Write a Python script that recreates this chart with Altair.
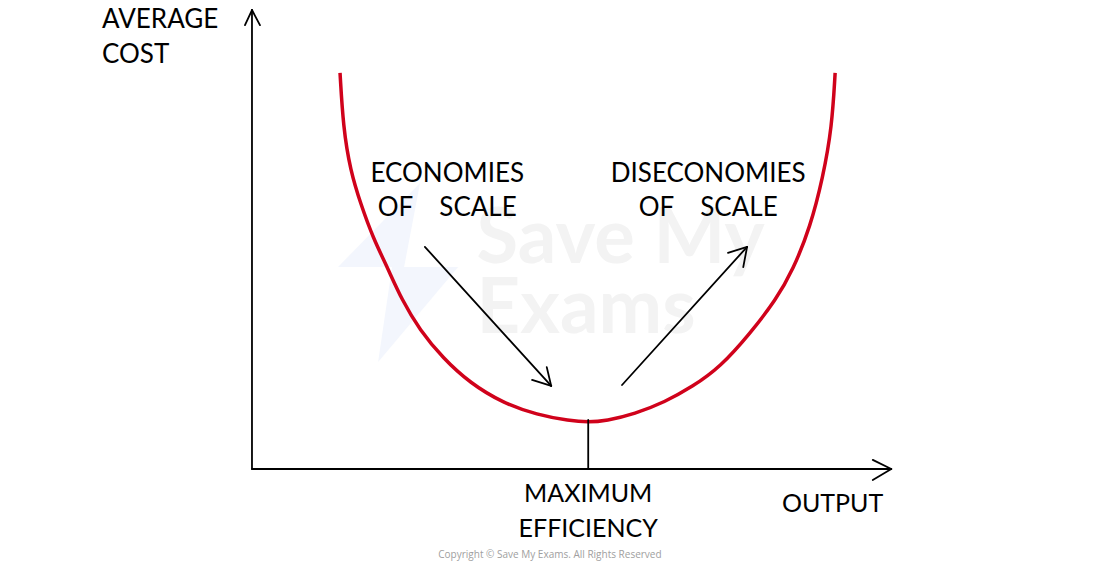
import altair as alt
import pandas as pd

# ---- data (diagram units: origin at axes corner, axis length = 100) ----
# Average cost curve (U-shape)
curve_x = [13.8, 14.3, 15.4, 17.1, 19.0, 21.2, 23.5, 26.3, 29.9, 34.2, 39.3, 44.7, 49.8, 52.7,
           55.5, 60.0, 64.7, 69.0, 73.4, 78.1, 82.1, 84.8, 87.5, 89.5, 90.9, 91.4]
curve_y = [86.3, 74.5, 65.1, 57.5, 50.3, 44.0, 36.8, 30.3, 24.2, 18.7, 14.4, 11.8, 10.5, 10.2,
           10.5, 12.0, 14.6, 17.9, 22.2, 29.6, 36.8, 43.4, 52.7, 63.6, 74.5, 86.3]

# Straight segments: axes, arrows, arrowheads, drop line at the minimum
seg_x  = [0.0, 0.0, 0.0, 0.0, 100.2, 100.2, 27.1, 46.9, 46.9, 58.0, 77.6, 77.6, 52.7]
seg_y  = [0.0, 100.0, 100.0, 0.0, 0.0, 0.0, 48.4, 18.1, 18.1, 18.3, 48.4, 48.4, 10.7]
seg_x2 = [0.0, -1.1, 1.25, 100.2, 97.3, 97.3, 46.9, 43.9, 46.2, 77.6, 74.6, 77.0, 52.7]
seg_y2 = [100.0, 96.7, 96.7, 0.0, 2.0, -2.4, 18.1, 19.4, 22.2, 48.4, 47.1, 44.0, 0.0]

# Axis titles (left aligned, baseline positions)
axis_text = ["AVERAGE", "COST"]
axis_tx = [-23.5, -23.5]
axis_ty = [96.0, 88.5]

# Annotation labels (centered, baseline positions)
NB = "\u00a0"
note_text = ["ECONOMIES", "OF" + NB * 4 + "SCALE", "DISECONOMIES", "OF" + NB * 4 + "SCALE"]
note_tx = [30.6, 30.6, 71.5, 71.5]
note_ty = [62.6, 55.2, 62.6, 55.2]

bottom_text = ["MAXIMUM", "EFFICIENCY", "OUTPUT"]
bottom_tx = [52.7, 52.7, 91.0]
bottom_ty = [-7.1, -14.75, -9.3]

wm_text = ["Save My", "Exams"]
wm_tx = [35.2, 35.2]
wm_ty = [44.9, 29.6]

logo_x = [22.9]
logo_y = [42.8]

copyright_text = ["Copyright \u00a9 Save My Exams. All Rights Reserved"]
copyright_x = [46.7]
copyright_y = [-18.7]

# ---- scales ----
xs = alt.Scale(domain=[-38.24, 131.66], nice=False, zero=False)
ys = alt.Scale(domain=[-20.04, 100.44], nice=False, zero=False)

def X(f="x"):
    return alt.X(f"{f}:Q", scale=xs, axis=None)

def Y(f="y"):
    return alt.Y(f"{f}:Q", scale=ys, axis=None)

curve_df = pd.DataFrame({"x": curve_x, "y": curve_y, "o": range(len(curve_x))})
seg_df = pd.DataFrame({"x": seg_x, "y": seg_y, "x2": seg_x2, "y2": seg_y2})
axis_df = pd.DataFrame({"x": axis_tx, "y": axis_ty, "t": axis_text})
note_df = pd.DataFrame({"x": note_tx, "y": note_ty, "t": note_text})
bottom_df = pd.DataFrame({"x": bottom_tx, "y": bottom_ty, "t": bottom_text})
wm_df = pd.DataFrame({"x": wm_tx, "y": wm_ty, "t": wm_text})
logo_df = pd.DataFrame({"x": logo_x, "y": logo_y})
copy_df = pd.DataFrame({"x": copyright_x, "y": copyright_y, "t": copyright_text})

logo_path = ("M 0.244 -0.994 L -0.667 -0.061 L 0.067 -0.061 Z "
             "M -0.067 -0.061 L 0.667 -0.061 L -0.222 0.994 Z")

logo = alt.Chart(logo_df).mark_point(
    shape=logo_path, filled=True, size=32400, color="#f3f6fd", opacity=1, strokeWidth=0
).encode(x=X(), y=Y())

watermark = alt.Chart(wm_df).mark_text(
    font="Lato", fontWeight="bold", fontSize=76, color="#f3f3f3", align="left", baseline="alphabetic"
).encode(x=X(), y=Y(), text="t:N")

curve = alt.Chart(curve_df).mark_line(
    color="#d0021b", strokeWidth=3.5, interpolate="basis"
).encode(x=X(), y=Y(), order="o:Q")

segs = alt.Chart(seg_df).mark_rule(color="#000000", strokeWidth=1.8, strokeCap="round").encode(
    x=X(), y=Y(), x2="x2:Q", y2="y2:Q"
)

axis_lbl = alt.Chart(axis_df).mark_text(
    font="Lato", fontSize=26, color="#000000", align="left", baseline="alphabetic"
).encode(x=X(), y=Y(), text="t:N")

note_lbl = alt.Chart(note_df).mark_text(
    font="Lato", fontSize=26, color="#000000", align="center", baseline="alphabetic"
).encode(x=X(), y=Y(), text="t:N")

bottom_lbl = alt.Chart(bottom_df).mark_text(
    font="Lato", fontSize=25, color="#000000", align="center", baseline="alphabetic"
).encode(x=X(), y=Y(), text="t:N")

copy_lbl = alt.Chart(copy_df).mark_text(
    font="Open Sans", fontSize=10, color="#a0a0a0", align="center", baseline="middle"
).encode(x=X(), y=Y(), text="t:N")

chart = alt.layer(
    logo, watermark, curve, segs, axis_lbl, note_lbl, bottom_lbl, copy_lbl
).properties(
    width=1084, height=553, padding=0, background="#ffffff",
    autosize=alt.AutoSizeParams(type="none")
).configure_view(stroke=None)

chart.save("out.html", embed_options={"renderer": "svg", "actions": False})
